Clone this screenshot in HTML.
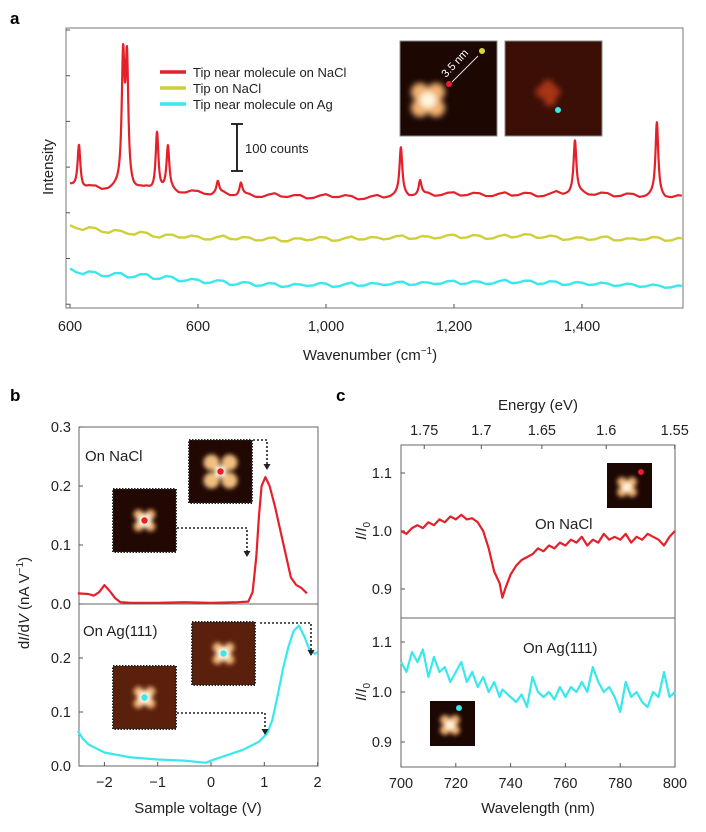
<!DOCTYPE html>
<html><head><meta charset="utf-8">
<style>
html,body{margin:0;padding:0;background:#fff;}
svg{display:block;font-family:"Liberation Sans",Arial,sans-serif;}
</style></head>
<body>
<svg id="fig" width="706" height="832" viewBox="0 0 706 832" xmlns="http://www.w3.org/2000/svg">
<defs>
  <filter id="blur3" x="-50%" y="-50%" width="200%" height="200%"><feGaussianBlur stdDeviation="3"/></filter>
  <filter id="blur2" x="-50%" y="-50%" width="200%" height="200%"><feGaussianBlur stdDeviation="2"/></filter>
</defs>
<text x="10" y="24" font-size="17" font-weight="bold">a</text>
<text x="10" y="401" font-size="17" font-weight="bold">b</text>
<text x="336" y="401" font-size="17" font-weight="bold">c</text>
<g id="ga"></g><g id="gb"></g><g id="gc"></g>
</svg>
<script>
// ===== Panel a data =====
const aBaseX0 = 400, aBaseStep = 10;
const aRedBase = [262,256,252,258,258,250,250,255,256,249,248,253,254,247,246,251,250,243,244,249,248,242,240,245,246,239,238,243,242,236,236,241,244,237,236,240,240,233,234,239,242,236,236,240,238,231,232,237,240,234,236,241,242,236,238,243,244,238,240,245,246,239,240,245,244,238,238,243,246,239,240,245,244,237,238,243,248,241,242,247,246,240,240,245,244,237,238,243,242,235,236,241,240,233,234,239,238];
const aYellow = [176,170,166,172,170,162,160,166,164,158,156,162,160,152,150,156,156,150,150,154,152,146,146,151,154,147,146,151,150,144,144,149,150,142,142,148,148,144,146,151,150,143,144,149,152,146,146,151,150,146,148,153,154,147,148,153,152,148,150,155,156,149,150,155,154,147,148,153,156,150,152,157,156,149,150,154,152,145,146,150,150,145,146,151,152,144,144,148,148,145,146,151,150,143,144,149,148];
const aCyan = [84,76,72,78,76,68,68,74,74,65,66,72,72,62,62,68,66,57,58,62,60,53,54,59,58,49,50,55,54,47,48,53,52,45,46,51,50,47,48,53,52,45,46,51,54,47,48,53,52,49,50,55,56,49,50,55,54,51,52,57,58,51,52,57,56,51,52,57,60,53,54,58,58,51,52,57,56,49,50,55,54,49,50,54,52,47,48,52,50,45,46,50,48,43,44,48,46];
const aPeakPos = [414,483,489,536,553,631,667,917,947,1189,1317];
const aPeakHeight = [92,265,265,125,92,25,25,100,30,110,155];
const aTickVals = [400,600,800,1000,1200];
const aTickLabels = ["600","600","1,000","1,200","1,400"];
// ===== Panel b data =====
const bRedV = [-2.5,-2.3,-2.2,-2.1,-2.0,-1.9,-1.8,-1.7,-1.5,-1,-0.5,0,0.5,0.7,0.78,0.85,0.9,0.95,1.02,1.1,1.2,1.3,1.4,1.5,1.6,1.7,1.8];
const bRedI = [0.018,0.017,0.014,0.02,0.032,0.022,0.01,0.003,0.002,0.002,0.003,0.002,0.003,0.004,0.02,0.08,0.15,0.2,0.215,0.2,0.165,0.125,0.085,0.045,0.032,0.027,0.018];
const bCyanV = [-2.5,-2.4,-2.3,-2.1,-2.0,-1.5,-1,-0.5,-0.1,0,0.3,0.6,0.9,1.05,1.15,1.25,1.35,1.45,1.55,1.65,1.75,1.85,1.95,2.0];
const bCyanI = [0.065,0.05,0.04,0.03,0.025,0.016,0.012,0.01,0.006,0.01,0.02,0.03,0.045,0.06,0.085,0.13,0.18,0.22,0.25,0.26,0.24,0.215,0.208,0.21];
const bXTicks = [-2,-1,0,1,2];
const bXLabels = ["\u22122","\u22121","0","1","2"];
const bYTicks = [0,0.1,0.2,0.3];
const bYLabels = ["0.0","0.1","0.2","0.3"];
// ===== Panel c data =====
const cWave = [700,702,704,706,708,710,712,714,716,718,720,722,724,726,728,730,732,734,736,737,738,740,742,744,746,748,750,752,754,756,758,760,762,764,766,768,770,772,774,776,778,780,782,784,786,788,790,792,794,796,798,800];
const cRed = [1.0,0.995,1.005,1.01,1.005,1.015,1.01,1.02,1.015,1.025,1.02,1.028,1.02,1.022,1.015,1.0,0.97,0.93,0.91,0.885,0.9,0.925,0.94,0.95,0.955,0.96,0.97,0.965,0.975,0.97,0.98,0.975,0.985,0.98,0.99,0.975,0.985,0.98,0.995,0.985,0.99,0.985,0.995,0.98,0.99,0.985,0.995,0.99,0.985,0.975,0.99,1.0];
const cCyan = [1.06,1.04,1.08,1.06,1.085,1.03,1.07,1.04,1.05,1.02,1.04,1.06,1.02,1.04,1.01,1.03,1.0,1.02,0.99,1.005,1.0,0.99,0.98,0.995,0.97,1.03,1.0,0.99,1.0,0.985,1.01,0.99,1.01,1.0,1.02,1.0,1.05,1.02,1.0,1.01,0.99,0.96,1.02,0.99,1.0,0.98,0.97,1.0,0.99,1.04,0.99,1.0];
const cXTicks = [700,720,740,760,780,800];
const cYTicks = [0.9,1.0,1.1];
const cYLabels = ["0.9","1.0","1.1"];
const cEnergyTicks = [1.75,1.7,1.65,1.6,1.55];
const cEnergyLabels = ["1.75","1.7","1.65","1.6","1.55"];

const NS = "http://www.w3.org/2000/svg";
function mk(parent, tag, attrs, text){
  const e = document.createElementNS(NS, tag);
  for (const k in attrs) e.setAttribute(k, attrs[k]);
  if (text !== undefined) e.textContent = text;
  parent.appendChild(e);
  return e;
}
function interp(xs, ys, x){
  if (x <= xs[0]) return ys[0];
  for (let i=1;i<xs.length;i++){ if (x <= xs[i]) { const t=(x-xs[i-1])/(xs[i]-xs[i-1]); return ys[i-1]+t*(ys[i]-ys[i-1]); } }
  return ys[ys.length-1];
}

// ================= PANEL A =================
(function(){
  const g = document.getElementById('ga');
  const L=66,R=683,T=28,B=308;
  const ax = v => 70 + (v-400)*0.64;
  const ay = c => 308 - c*0.47;
  const fr = mk(g,'rect',{x:L,y:T,width:R-L,height:B-T,fill:'none',stroke:'#777','stroke-width':1});
  
  
  for (let i=0;i<7;i++){ const y=30+i*45.7; const t=mk(g,'line',{x1:L,x2:L+4,y1:y,y2:y,stroke:'#555'});   }
  aTickVals.forEach((v,i)=>{
    const x=ax(v);
    const t=mk(g,'line',{x1:x,x2:x,y1:B,y2:B-4,stroke:'#555'});
     
    const lb=mk(g,'text',{x:x,y:331,'font-size':14.5,'text-anchor':'middle',fill:'#222'},aTickLabels[i]);
     
  });
  const xt=mk(g,'text',{x:370,y:360,'font-size':15,'text-anchor':'middle',fill:'#222'});
  xt.innerHTML='Wavenumber (cm<tspan dy="-6" font-size="10">\u22121</tspan><tspan dy="6">)</tspan>';
   
  const yt=mk(g,'text',{x:0,y:0,'font-size':15,'text-anchor':'middle',fill:'#222',transform:'translate(53,167) rotate(-90)'},'Intensity');
   
  function seriesPath(arr, withPeaks){
    const xs = arr.map((_,i)=>aBaseX0+i*aBaseStep);
    let d='';
    for (let v=400; v<=1356; v+= withPeaks?0.5:2){
      let c = interp(xs, arr, v);
      if (withPeaks){ aPeakPos.forEach((p,i)=>{ const w=2.6; c += aPeakHeight[i]/(1+((v-p)/w)**2); }); }
      d += (d?'L':'M')+ax(v).toFixed(2)+','+ay(c).toFixed(2);
    }
    return d;
  }
  const pc = mk(g,'path',{d:seriesPath(aCyan,false),fill:'none',stroke:'#38e8ec','stroke-width':2.4,'stroke-linejoin':'round'});
   
  const py = mk(g,'path',{d:seriesPath(aYellow,false),fill:'none',stroke:'#cfcf3a','stroke-width':2.4,'stroke-linejoin':'round'});
   
  const pr = mk(g,'path',{d:seriesPath(aRedBase,true),fill:'none',stroke:'#e4202a','stroke-width':2.2,'stroke-linejoin':'round'});
   
  const leg=[['#e4202a','Tip near molecule on NaCl'],['#cfcf3a','Tip on NaCl'],['#38e8ec','Tip near molecule on Ag']];
  leg.forEach((l,i)=>{
    const y=72+i*16;
    const ln=mk(g,'line',{x1:160,x2:186,y1:y,y2:y,stroke:l[0],'stroke-width':3.5});
     
    const tx=mk(g,'text',{x:193,y:y+5,'font-size':13,fill:'#222'},l[1]);
     
  });
  const sb=mk(g,'path',{d:'M231,124H243M237,124V171M231,171H243',stroke:'#111','stroke-width':1.8,fill:'none'});
   
  const st=mk(g,'text',{x:245,y:153,'font-size':13,fill:'#222'},'100 counts');
   
  const i1=mk(g,'g',{});  
  mk(i1,'rect',{x:400,y:41,width:97,height:95,fill:'#1c0703',stroke:'#888','stroke-width':1});
  const lob=mk(i1,'g',{filter:'url(#blur3)'});
  [[-8,-8],[8,-8],[-8,8],[8,8]].forEach(o=>mk(lob,'circle',{cx:428+o[0],cy:100+o[1],r:9,fill:'#f0b070'}));
  mk(lob,'circle',{cx:428,cy:100,r:8,fill:'#fff6dc'});
  mk(i1,'line',{x1:452,y1:82,x2:478,y2:56,stroke:'#ddd','stroke-width':1});
  mk(i1,'text',{x:0,y:0,'font-size':11,fill:'#fff',transform:'translate(446,78) rotate(-47)'},'3.5 nm');
  mk(i1,'circle',{cx:449,cy:84,r:3,fill:'#e4202a'});
  mk(i1,'circle',{cx:482,cy:51,r:3,fill:'#d8d83a'});
  const i2=mk(g,'g',{});  
  mk(i2,'rect',{x:505,y:41,width:97,height:95,fill:'#3c0f06',stroke:'#888','stroke-width':1});
  const lob2=mk(i2,'g',{filter:'url(#blur3)'});
  [[-6,0],[6,0],[0,-6],[2,8]].forEach(o=>mk(lob2,'circle',{cx:548+o[0],cy:92+o[1],r:6,fill:'#a83418'}));
  mk(i2,'circle',{cx:558,cy:110,r:3,fill:'#38e8ec'});
})();

// ================= PANEL B =================
(function(){
  const g=document.getElementById('gb');
  const L=79,R=318,T=427,M=604,B=766;
  const bx = v => 211 + v*53.3;
  const byTop = v => 604 - v*590;
  const byBot = v => 766 - v*540;
  const f1=mk(g,'rect',{x:L,y:T,width:R-L,height:B-T,fill:'none',stroke:'#666'});
   
  const ml=mk(g,'line',{x1:L,x2:R,y1:M,y2:M,stroke:'#666'});
   
  bXTicks.forEach((v,i)=>{
    const x=bx(v);
    const t=mk(g,'line',{x1:x,x2:x,y1:B,y2:B-4,stroke:'#555'});  
    const lb=mk(g,'text',{x:x,y:787,'font-size':14.5,'text-anchor':'middle',fill:'#222'},bXLabels[i]);
     
  });
  bYTicks.forEach((v,i)=>{
    [byTop(v), byBot(v)].forEach((y,k)=>{
      if (k===1 && v>0.25) return;
      const t=mk(g,'line',{x1:L,x2:L+4,y1:y,y2:y,stroke:'#555'});  
      const lb=mk(g,'text',{x:71,y:y+5,'font-size':14.5,'text-anchor':'end',fill:'#222'},bYLabels[i]);
       
    });
  });
  const xt=mk(g,'text',{x:198,y:813,'font-size':15,'text-anchor':'middle',fill:'#222'},'Sample voltage (V)');
   
  const yt=mk(g,'text',{x:0,y:0,'font-size':15,'text-anchor':'middle',fill:'#222',transform:'translate(29,603) rotate(-90)'});
  yt.innerHTML='d<tspan font-style="italic">I</tspan>/d<tspan font-style="italic">V</tspan> (nA V<tspan dy="-6" font-size="10">\u22121</tspan><tspan dy="6">)</tspan>';
   
  let d=''; bRedV.forEach((v,i)=>{ d+=(i?'L':'M')+bx(v).toFixed(1)+','+byTop(bRedI[i]).toFixed(1); });
  const pr=mk(g,'path',{d:d,fill:'none',stroke:'#e4202a','stroke-width':2.2,'stroke-linejoin':'round'});
   
  d=''; bCyanV.forEach((v,i)=>{ d+=(i?'L':'M')+bx(v).toFixed(1)+','+byBot(bCyanI[i]).toFixed(1); });
  const pc=mk(g,'path',{d:d,fill:'none',stroke:'#38e8ec','stroke-width':2.2,'stroke-linejoin':'round'});
   
  const t1=mk(g,'text',{x:85,y:461,'font-size':15,fill:'#222'},'On NaCl');
   
  const t2=mk(g,'text',{x:83,y:636,'font-size':15,fill:'#222'},'On Ag(111)');
   
  function inset(x,y,bg,dotCol,lobeCol,cross,name){
    const gg=mk(g,'g',{});  
    mk(gg,'rect',{x:x,y:y,width:63,height:63,fill:bg,stroke:'#222','stroke-width':2,'stroke-dasharray':'1.5,1.5'});
    const cx=x+31.5, cy=y+31.5;
    const lg=mk(gg,'g',{filter:'url(#blur2)'});
    const offs = cross ? [[-6,-6],[6,-6],[-6,6],[6,6]] : [[-9,-9],[9,-9],[-9,9],[9,9]];
    offs.forEach(o=>mk(lg,'circle',{cx:cx+o[0],cy:cy+o[1],r:cross?5:8,fill:lobeCol}));
    mk(lg,'circle',{cx:cx,cy:cy,r:cross?7:6,fill:'#fff3d8'});
    mk(gg,'circle',{cx:cx,cy:cy,r:3.2,fill:dotCol});
  }
  inset(113,489,'#220803','#e4202a','#f0b070',true,'stm-inset-b-nacl-1');
  inset(189,440,'#220803','#e4202a','#f0c080',false,'stm-inset-b-nacl-2');
  inset(113,666,'#5a200c','#38e8ec','#f0b070',true,'stm-inset-b-ag-1');
  inset(192,622,'#5a200c','#38e8ec','#f0b070',true,'stm-inset-b-ag-2');
  const arrows=[['M177,528H247V553',247,557],['M253,440H267V466',267,470],['M260,623H311V652',311,656],['M177,713H265V731',265,735]];
  arrows.forEach(a=>{
    const p=mk(g,'path',{d:a[0],fill:'none',stroke:'#222','stroke-width':1.6,'stroke-dasharray':'2,2'});
     
    mk(g,'path',{d:`M${a[1]-3.5},${a[2]-6}L${a[1]+3.5},${a[2]-6}L${a[1]},${a[2]}Z`,fill:'#222'});
  });
})();

// ================= PANEL C =================
(function(){
  const g=document.getElementById('gc');
  const L=401,R=675,T=445,M=618,B=767;
  const cx = w => 401 + (w-700)*2.74;
  const cyTop = v => 531 - (v-1.0)*580;
  const cyBot = v => 692 - (v-1.0)*500;
  const f=mk(g,'rect',{x:L,y:T,width:R-L,height:B-T,fill:'none',stroke:'#666'});
   
  const ml=mk(g,'line',{x1:L,x2:R,y1:M,y2:M,stroke:'#666'});
   
  cXTicks.forEach(w=>{
    const x=cx(w);
    const t=mk(g,'line',{x1:x,x2:x,y1:B,y2:B-4,stroke:'#555'});  
    const lb=mk(g,'text',{x:x,y:788,'font-size':14.5,'text-anchor':'middle',fill:'#222'},String(w));
     
  });
  cEnergyTicks.forEach((e,i)=>{
    const x=cx(1239.84/e);
    const t=mk(g,'line',{x1:x,x2:x,y1:T,y2:T+4,stroke:'#555'});  
    const lb=mk(g,'text',{x:x,y:435,'font-size':14.5,'text-anchor':'middle',fill:'#222'},cEnergyLabels[i]);
     
  });
  cYTicks.forEach((v,i)=>{
    [cyTop(v),cyBot(v)].forEach(y=>{
      const t=mk(g,'line',{x1:L,x2:L+4,y1:y,y2:y,stroke:'#555'});  
      const lb=mk(g,'text',{x:392,y:y+5,'font-size':14.5,'text-anchor':'end',fill:'#222'},cYLabels[i]);
       
    });
  });
  const et=mk(g,'text',{x:538,y:410,'font-size':15,'text-anchor':'middle',fill:'#222'},'Energy (eV)');
   
  const xt=mk(g,'text',{x:538,y:813,'font-size':15,'text-anchor':'middle',fill:'#222'},'Wavelength (nm)');
   
  [531,692].forEach(y=>{
    const yl=mk(g,'text',{x:0,y:0,'font-size':15,'text-anchor':'middle',fill:'#222',transform:`translate(366,${y}) rotate(-90)`});
    yl.innerHTML='<tspan font-style="italic">I</tspan>/<tspan font-style="italic">I</tspan><tspan dy="4" font-size="10">0</tspan>';
     
  });
  let d=''; cWave.forEach((w,i)=>{ d+=(i?'L':'M')+cx(w).toFixed(1)+','+cyTop(cRed[i]).toFixed(1); });
  const pr=mk(g,'path',{d:d,fill:'none',stroke:'#e4202a','stroke-width':2.2,'stroke-linejoin':'round'});
   
  d=''; cWave.forEach((w,i)=>{ d+=(i?'L':'M')+cx(w).toFixed(1)+','+cyBot(cCyan[i]).toFixed(1); });
  const pc=mk(g,'path',{d:d,fill:'none',stroke:'#38e8ec','stroke-width':2.2,'stroke-linejoin':'round'});
   
  const t1=mk(g,'text',{x:535,y:529,'font-size':15,fill:'#222'},'On NaCl');
   
  const t2=mk(g,'text',{x:523,y:653,'font-size':15,fill:'#222'},'On Ag(111)');
   
  function inset(x,y,dx,dy,col,name){
    const gg=mk(g,'g',{});  
    mk(gg,'rect',{x:x,y:y,width:45,height:45,fill:'#1c0703'});
    const lg=mk(gg,'g',{filter:'url(#blur2)'});
    [[-5,-5],[5,-5],[-5,5],[5,5]].forEach(o=>mk(lg,'circle',{cx:x+20+o[0],cy:y+24+o[1],r:5,fill:'#f0b070'}));
    mk(lg,'circle',{cx:x+20,cy:y+24,r:5,fill:'#fff3d8'});
    mk(gg,'circle',{cx:x+dx,cy:y+dy,r:3,fill:col});
  }
  inset(607,463,34,9,'#e4202a','stm-inset-c-nacl');
  inset(430,701,29,7,'#38e8ec','stm-inset-c-ag');
})();
</script>
</body></html>
